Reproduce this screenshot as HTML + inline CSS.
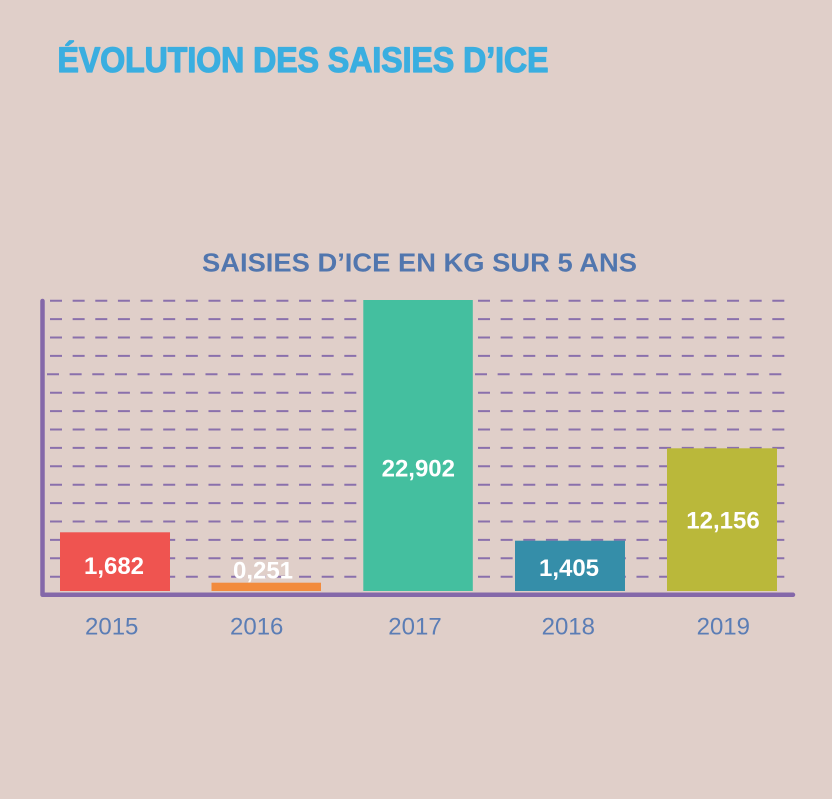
<!DOCTYPE html>
<html><head><meta charset="utf-8"><style>
html,body{margin:0;padding:0;background:#e0cfc9;}
svg{display:block;}
</style></head><body>
<svg width="832" height="799" viewBox="0 0 832 799" xmlns="http://www.w3.org/2000/svg">
<rect width="832" height="799" fill="#e0cfc9"/>
<text x="57.5" y="72" font-family="Liberation Sans, sans-serif" font-weight="bold" font-size="35" fill="#3aaee0" stroke="#3aaee0" stroke-width="1.3" stroke-linejoin="round" textLength="491" lengthAdjust="spacingAndGlyphs">ÉVOLUTION DES SAISIES D’ICE</text>
<text x="202" y="271.7" font-family="Liberation Sans, sans-serif" font-weight="bold" font-size="25.5" fill="#5176ae" textLength="435" lengthAdjust="spacingAndGlyphs">SAISIES D’ICE EN KG SUR 5 ANS</text>
<g stroke="#8a70ac" stroke-width="2" stroke-dasharray="12 10.64" fill="none">
<path d="M50 300.7H357M478 300.7H790
M50 319.1H357M478 319.1H790
M50 337.5H357M478 337.5H790
M50 355.9H357M478 355.9H790
M47 374.3H357M475 374.3H790
M50 392.7H357M478 392.7H790
M50 411.1H357M478 411.1H790
M50 429.5H357M478 429.5H790
M50 447.9H357M478 447.9H790
M50 466.3H357M478 466.3H790
M50 484.7H357M478 484.7H790
M50 503.1H357M478 503.1H790
M50 521.5H357M478 521.5H790
M50 539.9H357M478 539.9H790
M50 558.3H357M478 558.3H790
M50 576.7H357M478 576.7H790"/>
</g>
<rect x="60" y="532.3" width="110" height="58.7" fill="#ef5450"/>
<rect x="211.5" y="582.7" width="109.5" height="8.3" fill="#f28b3d"/>
<rect x="363.3" y="300" width="109.5" height="291" fill="#44bf9f"/>
<rect x="515" y="540.7" width="110" height="50.3" fill="#358ea9"/>
<rect x="667" y="448.3" width="110" height="142.7" fill="#bab83a"/>
<path d="M42.5 301V594.8H793" stroke="#8468a9" stroke-width="4.5" fill="none" stroke-linecap="round" stroke-linejoin="round"/>
<g font-family="Liberation Sans, sans-serif" font-weight="bold" font-size="24" fill="#ffffff" text-anchor="middle">
<text x="114" y="574">1,682</text>
<text x="263" y="578.3">0,251</text>
<text x="418.3" y="476.7">22,902</text>
<text x="569" y="576">1,405</text>
<text x="723" y="528.3">12,156</text>
</g>
<g font-family="Liberation Sans, sans-serif" font-size="24" fill="#5b7db5" text-anchor="middle">
<text x="111.7" y="634.3">2015</text>
<text x="256.7" y="634.3">2016</text>
<text x="415" y="634.3">2017</text>
<text x="568.3" y="634.3">2018</text>
<text x="723.3" y="634.3">2019</text>
</g>
</svg>
</body></html>
